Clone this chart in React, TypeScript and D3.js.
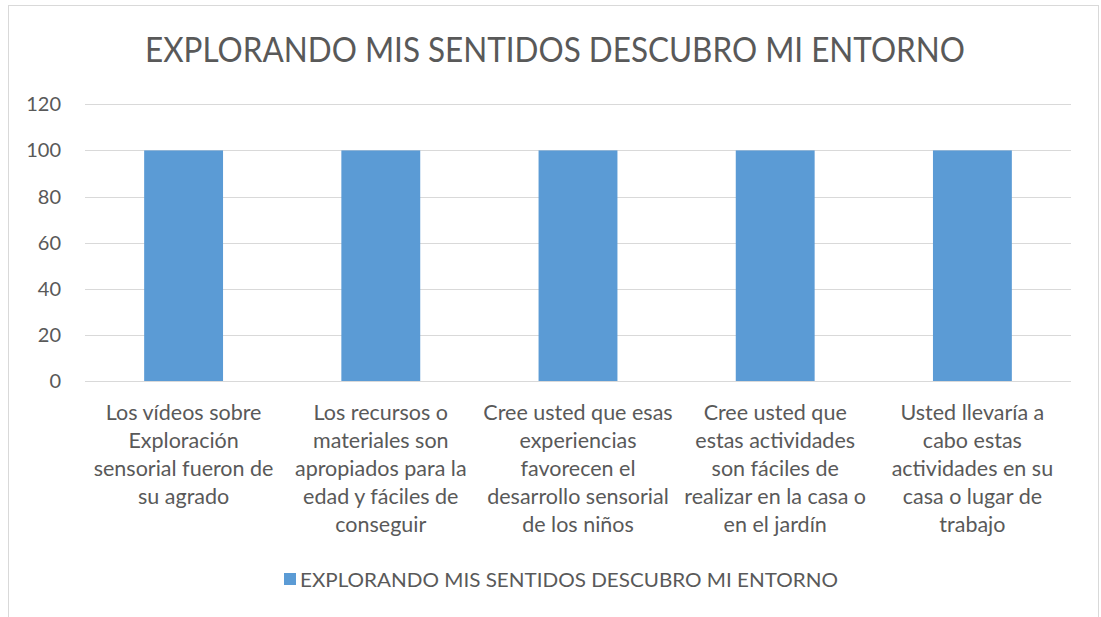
import React from "react";
import * as d3 from "d3";

const title = "EXPLORANDO MIS SENTIDOS DESCUBRO MI ENTORNO";
const seriesName = "EXPLORANDO MIS SENTIDOS DESCUBRO MI ENTORNO";
const categories: string[][] = [
  ["Los vídeos sobre", "Exploración", "sensorial fueron de", "su agrado"],
  ["Los recursos o", "materiales son", "apropiados para la", "edad y fáciles de", "conseguir"],
  ["Cree usted que esas", "experiencias", "favorecen el", "desarrollo sensorial", "de los niños"],
  ["Cree usted que", "estas actividades", "son fáciles de", "realizar en la casa o", "en el jardín"],
  ["Usted llevaría a", "cabo estas", "actividades en su", "casa o lugar de", "trabajo"],
];
const values = [100, 100, 100, 100, 100];
const yTicks = [0, 20, 40, 60, 80, 100, 120];

const W = 1101;
const H = 617;
const FONT = "Lato, 'Open Sans', sans-serif";
const TEXT = "#595959";

export default function App() {
  const left = 85, right = 1071, top = 104.3, bottom = 381;
  const x = d3.scaleBand<number>().domain(d3.range(categories.length)).range([left, right]).paddingInner(0.6).paddingOuter(0.3);
  const y = d3.scaleLinear().domain([0, 120]).range([bottom, top]);
  return (
    <svg width={W} height={H} style={{ position: "absolute", left: 0, top: 0 }} fontFamily={FONT}>
      <rect x={0} y={0} width={W} height={H} fill="#fff" />
      <rect x={8.5} y={5.5} width={1090} height={640} fill="#fff" stroke="#D9D9D9" strokeWidth={1} />
      <text x={555} y={62} textAnchor="middle" fontSize={34} fill={TEXT} textLength={820} lengthAdjust="spacingAndGlyphs" fontWeight={400}>{title}</text>
      {yTicks.map((t) => (
        <g key={t}>
          <line x1={left} x2={right} y1={Math.round(y(t)) + 0.5} y2={Math.round(y(t)) + 0.5} stroke="#D9D9D9" strokeWidth={1} />
          <text x={61} y={y(t) + 7} textAnchor="end" fontSize={20} fill={TEXT}>{t}</text>
        </g>
      ))}
      {values.map((v, i) => (
        <rect key={i} x={x(i)} y={y(v)} width={x.bandwidth()} height={y(0) - y(v)} fill="#5B9BD5" />
      ))}
      {categories.map((lines, i) => {
        const cx = left + ((right - left) / categories.length) * (i + 0.5);
        return (
          <text key={i} textAnchor="middle" fontSize={21.5} fill={TEXT}>
            {lines.map((l, j) => (
              <tspan key={j} x={cx} y={420 + j * 28}>{l}</tspan>
            ))}
          </text>
        );
      })}
      <rect x={284} y={573} width={12} height={12} fill="#5B9BD5" />
      <text x={300} y={587} fontSize={19} fill={TEXT} textLength={538} lengthAdjust="spacingAndGlyphs">{seriesName}</text>
    </svg>
  );
}
